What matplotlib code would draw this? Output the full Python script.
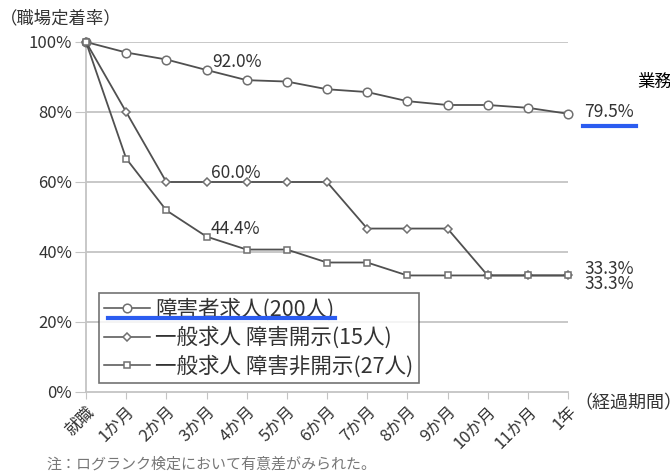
import numpy as np
import matplotlib
matplotlib.use("Agg")
import matplotlib.pyplot as plt
from matplotlib.lines import Line2D

plt.rcParams['font.family'] = ['Noto Sans CJK JP', 'DejaVu Sans']

# 経過期間
periods = ["就職", "1か月", "2か月", "3か月", "4か月", "5か月", "6か月",
           "7か月", "8か月", "9か月", "10か月", "11か月", "1年"]

# 職場定着率 (%)
shogai_kyujin = [100, 97.0, 95.0, 92.0, 89.1, 88.7, 86.5, 85.7, 83.1, 82.0, 82.0, 81.2, 79.5]
ippan_kaiji = [100, 80.0, 60.0, 60.0, 60.0, 60.0, 60.0, 46.7, 46.7, 46.7, 33.3, 33.3, 33.3]
ippan_hikaiji = [100, 66.7, 51.9, 44.4, 40.7, 40.7, 37.0, 37.0, 33.3, 33.3, 33.3, 33.3, 33.3]

series_labels = ["障害者求人(200人)", "一般求人 障害開示(15人)", "一般求人 障害非開示(27人)"]
yticks = [0, 20, 40, 60, 80, 100]

line_col = "#505050"
edge_col = "#707070"
text_col = "#333333"
grid_col = "#c4c4c4"

fig = plt.figure(figsize=(6.7, 4.75), dpi=100)
ax = fig.add_axes([86 / 670, 1 - 392 / 475, (568 - 86) / 670, (392 - 42) / 475])

x = np.arange(len(periods))
series = [shogai_kyujin, ippan_kaiji, ippan_hikaiji]
markers = [("o", 6.2), ("D", 4.3), ("s", 4.6)]
handles = []
for vals, (m, ms), lab in zip(series, markers, series_labels):
    ax.plot(x, vals, color=line_col, lw=1.3, marker=m, ms=ms,
            mfc="white", mec=edge_col, mew=1.1, zorder=3, clip_on=False)
    handles.append(Line2D([], [], color=line_col, lw=1.1, marker=m, ms=ms,
                          mfc="white", mec=edge_col, mew=1.1, label=lab))

ax.set_xlim(0, 12)
ax.set_ylim(0, 100)
ax.set_yticks(yticks)
ax.set_yticklabels([f"{v}%" for v in yticks], fontsize=12, color=text_col)
ax.set_xticks(x)
ax.set_xticklabels(periods, rotation=45, ha="right", rotation_mode="anchor",
                   fontsize=12, color=text_col)
ax.tick_params(axis="y", length=8, color=grid_col, pad=2)
ax.tick_params(axis="x", length=5, color=grid_col, pad=3)

for v in yticks[1:]:
    ax.axhline(v, color=grid_col, lw=1.3, zorder=1)
for s in ["top", "right"]:
    ax.spines[s].set_visible(False)
for s in ["left", "bottom"]:
    ax.spines[s].set_color(grid_col)
    ax.spines[s].set_linewidth(1.3)

# 数値ラベル
lab_kw = dict(fontsize=12.5, color=text_col, va="center", ha="left")
ax.text(3.15, shogai_kyujin[3] + 2.4, f"{shogai_kyujin[3]:.1f}%", **lab_kw)
ax.text(3.1, ippan_kaiji[3] + 2.6, f"{ippan_kaiji[3]:.1f}%", **lab_kw)
ax.text(3.1, ippan_hikaiji[3] + 2.3, f"{ippan_hikaiji[3]:.1f}%", **lab_kw)
ax.text(12.4, shogai_kyujin[12] + 0.5, f"{shogai_kyujin[12]:.1f}%", **lab_kw)
ax.text(12.4, ippan_kaiji[12] + 1.9, f"{ippan_kaiji[12]:.1f}%", **lab_kw)
ax.text(12.4, ippan_hikaiji[12] - 2.4, f"{ippan_hikaiji[12]:.1f}%", **lab_kw)

leg = ax.legend(handles=handles, loc="upper left", bbox_to_anchor=(0.027, 0.283),
                frameon=True, fancybox=False, fontsize=15.5, handlelength=2.1,
                handletextpad=0.25, borderpad=0.25, labelspacing=0.28,
                borderaxespad=0)
leg.get_frame().set_edgecolor("#505050")
leg.get_frame().set_linewidth(1.2)
for t in leg.get_texts():
    t.set_color(text_col)

# 青い下線
fig.add_artist(Line2D([108 / 670, 335 / 670], [1 - 318 / 475] * 2,
                      color="#2b5cf0", lw=3))
fig.add_artist(Line2D([583 / 670, 636 / 670], [1 - 126 / 475] * 2,
                      color="#2b5cf0", lw=3))

fig.text(0 / 670, 1 - 18 / 475, "（職場定着率）", fontsize=12.5, color=text_col,
         va="center", ha="left")
fig.text(574 / 670, 1 - 403 / 475, "（経過期間）", fontsize=13, color=text_col,
         va="center", ha="left")
fig.text(637 / 670, 1 - 82 / 475, "業務", fontsize=12.5, color="black",
         va="center", ha="left")
fig.text(46 / 670, 1 - 464 / 475, "注：ログランク検定において有意差がみられた。",
         fontsize=10.8, color="#777777", va="center", ha="left")

fig.savefig("out.png", dpi=100)
